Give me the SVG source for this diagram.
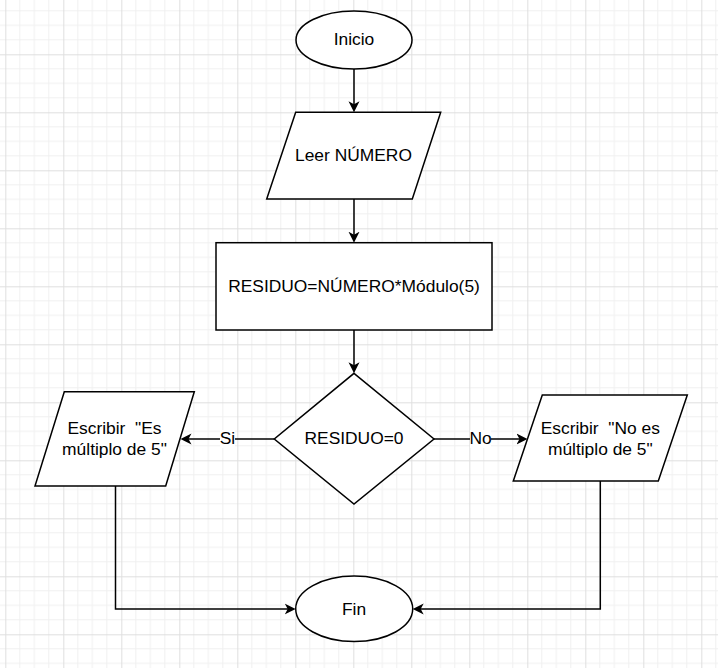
<svg xmlns="http://www.w3.org/2000/svg" width="718" height="668" viewBox="0 0 718 668">
<defs>
<pattern id="grid" x="5.3" y="54.3" width="58" height="58" patternUnits="userSpaceOnUse">
<path d="M14.5,0 V58 M29,0 V58 M43.5,0 V58 M0,14.5 H58 M0,29 H58 M0,43.5 H58" stroke="#f0f0f0" stroke-width="1" fill="none"/>
<path d="M0.5,0 V58 M0,0.5 H58" stroke="#dfdfdf" stroke-width="1" fill="none"/>
</pattern>
<marker id="arrow" markerUnits="userSpaceOnUse" markerWidth="12" markerHeight="12" refX="5" refY="6" orient="auto" viewBox="0 0 12 12">
<path d="M0,0.5 L11,6 L0,11.5 L3,6 Z" fill="#000" stroke="none"/>
</marker>
<style>
.shape{fill:#fff;stroke:#000;stroke-width:1.5}
.conn{fill:none;stroke:#000;stroke-width:1.5;marker-end:url(#arrow)}
.t{font-family:"Liberation Sans",Arial,sans-serif;font-size:17.4px;fill:#000;text-anchor:middle}
.lbl{fill:#fff}
</style>
</defs>
<rect x="0" y="0" width="718" height="668" fill="#fff"/>
<rect x="0" y="0" width="718" height="668" fill="url(#grid)"/>

<g id="connectors">
<path class="conn" d="M354,69 L354,106.3"/>
<path class="conn" d="M354,199 L354,236.7"/>
<path class="conn" d="M354,330 L354,367.3"/>
<path class="conn" d="M274.3,439 L186.5,439"/>
<path class="conn" d="M434,439 L521.5,439"/>
<path class="conn" d="M115.5,486 L115.5,609 L289.7,609"/>
<path class="conn" d="M600.3,481 L600.3,609 L418.7,609"/>
<rect class="lbl" x="220" y="430" width="15" height="18"/>
<text class="t" x="227.5" y="444">Si</text>
<rect class="lbl" x="470" y="430" width="21" height="18"/>
<text class="t" x="480.5" y="444">No</text>
</g>

<g id="inicio">
<ellipse class="shape" cx="354" cy="40" rx="58" ry="29"/>
<text class="t" x="354" y="45">Inicio</text>
</g>

<g id="leer">
<polygon class="shape" points="295.7,112.3 440.7,112.3 412.3,199 266.7,199"/>
<text class="t" x="353.5" y="161">Leer NÚMERO</text>
</g>

<g id="residuo">
<rect class="shape" x="216" y="242.7" width="276" height="87.3"/>
<text class="t" x="354" y="292">RESIDUO=NÚMERO*Módulo(5)</text>
</g>

<g id="decision">
<polygon class="shape" points="354,373.3 434,439 354,504 274.3,439"/>
<text class="t" x="354" y="444">RESIDUO=0</text>
</g>

<g id="escribir-si">
<polygon class="shape" points="64.3,391.7 194.3,391.7 165.7,486 35,486"/>
<text class="t" x="114.5" y="434" xml:space="preserve">Escribir  "Es</text>
<text class="t" x="114.5" y="455">múltiplo de 5"</text>
</g>

<g id="escribir-no">
<polygon class="shape" points="542.3,395 687.3,395 658.3,481 513.3,481"/>
<text class="t" x="600.3" y="434" xml:space="preserve">Escribir  "No es</text>
<text class="t" x="600.3" y="455">múltiplo de 5"</text>
</g>

<g id="fin">
<ellipse class="shape" cx="354.2" cy="608.8" rx="58.5" ry="32.8"/>
<text class="t" x="354" y="615">Fin</text>
</g>
</svg>
